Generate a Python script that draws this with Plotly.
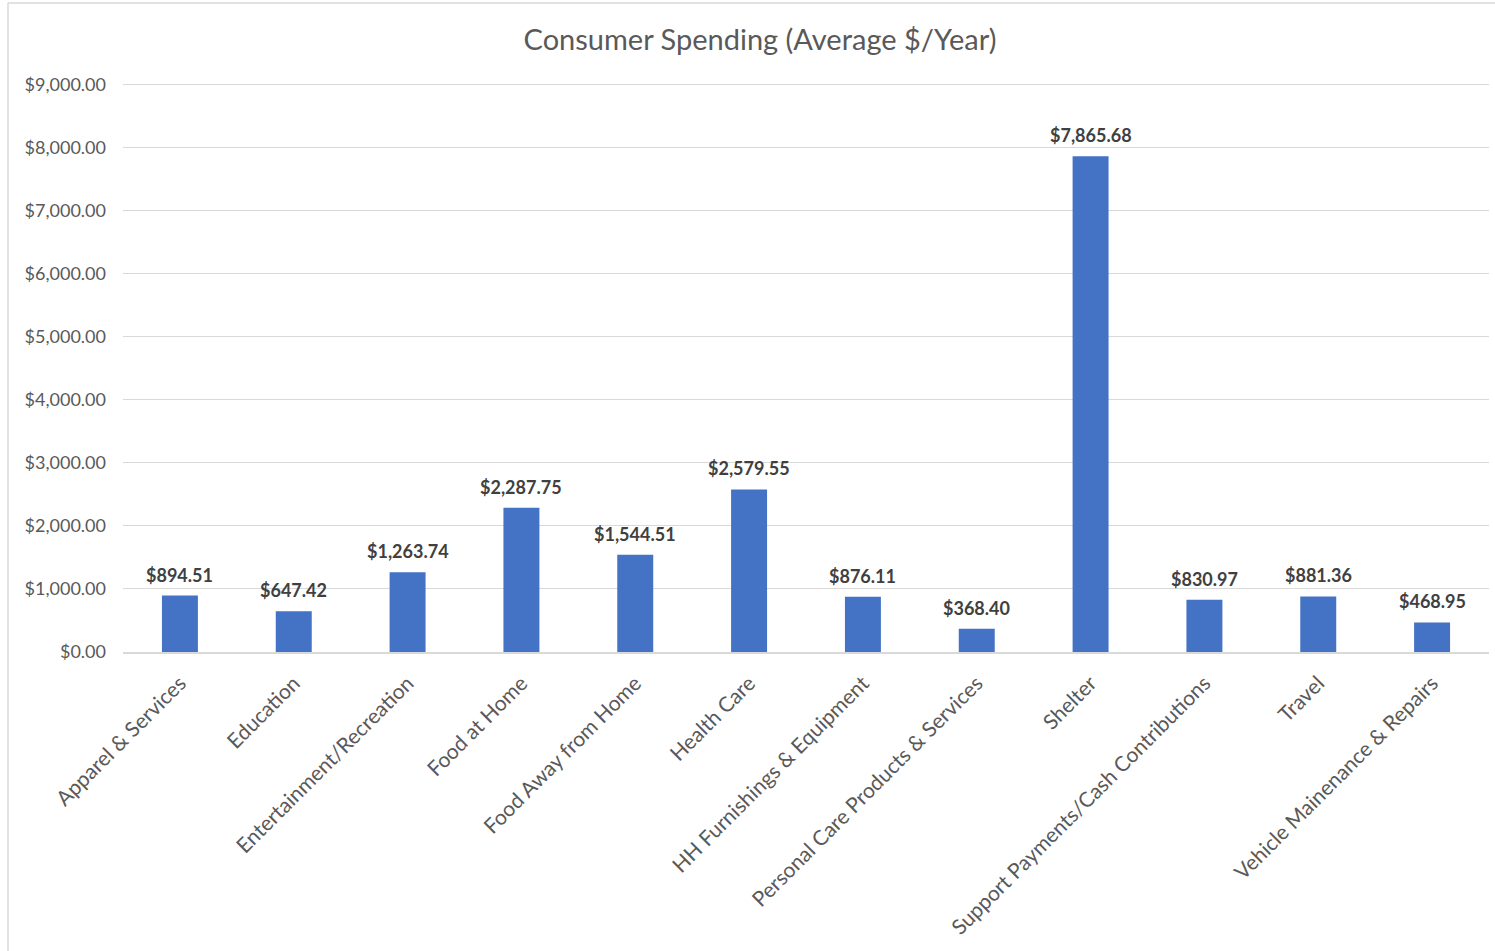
import plotly.graph_objects as go

# Average annual spending per category (US$)
categories = [
    "Apparel & Services",
    "Education",
    "Entertainment/Recreation",
    "Food at Home",
    "Food Away from Home",
    "Health Care",
    "HH Furnishings & Equipment",
    "Personal Care Products & Services",
    "Shelter",
    "Support Payments/Cash Contributions",
    "Travel",
    "Vehicle Mainenance & Repairs",
]
spending = [894.51, 647.42, 1263.74, 2287.75, 1544.51, 2579.55,
            876.11, 368.40, 7865.68, 830.97, 881.36, 468.95]

y_ticks = [0, 1000, 2000, 3000, 4000, 5000, 6000, 7000, 8000, 9000]
y_tick_labels = [f"${v:,.2f}" for v in y_ticks]
bar_labels = [f"${v:,.2f}" for v in spending]

FONT = "Lato, 'Open Sans', sans-serif"
W, H = 1495, 951
Y_MAX = 9060  # a little headroom so the $9,000 gridline is drawn
ML, MR, MB = 123, 6, 299
PX_PER_UNIT = 567 / 9000
MT = round(H - MB - Y_MAX * PX_PER_UNIT)
PW, PH = W - ML - MR, H - MT - MB


def px_x(px):
    return (px - ML) / PW


def px_y(py):
    return (H - MB - py) / PH


fig = go.Figure(
    go.Bar(
        x=categories,
        y=spending,
        marker=dict(color="#4472C4", line=dict(width=0)),
        cliponaxis=False,
        hoverinfo="x+y",
    )
)

# value labels above each bar
for cat, val, lab in zip(categories, spending, bar_labels):
    fig.add_annotation(
        x=cat, y=val, text=lab, showarrow=False,
        xanchor="center", yanchor="middle", yshift=21,
        font=dict(family=FONT, size=18, color="#404040", weight="bold"),
    )

fig.update_layout(
    width=W,
    height=H,
    margin=dict(l=ML, r=MR, t=MT, b=MB, autoexpand=False),
    paper_bgcolor="white",
    plot_bgcolor="white",
    bargap=0.684,
    showlegend=False,
    font=dict(family=FONT, color="#595959"),
    title=dict(
        text="Consumer Spending (Average $/Year)",
        font=dict(family=FONT, size=29, color="#595959"),
        xref="paper",
        x=px_x(760),
        xanchor="center",
        yref="container",
        y=1 - 40 / H,
        yanchor="middle",
    ),
    xaxis=dict(
        tickangle=-45,
        tickfont=dict(family=FONT, size=21, color="#595959"),
        showgrid=False,
        showline=True,
        linecolor="#D9D9D9",
        linewidth=1.5,
        ticks="",
        ticklabelstandoff=9,
    ),
    yaxis=dict(
        range=[0, Y_MAX],
        tickvals=y_ticks,
        ticktext=y_tick_labels,
        tickfont=dict(family=FONT, size=18, color="#595959"),
        showgrid=True,
        gridcolor="#D9D9D9",
        gridwidth=1.2,
        zeroline=False,
        showline=False,
        ticks="",
        ticklabelstandoff=16,
    ),
    shapes=[
        # chart frame (left and top edges)
        dict(type="line", xref="paper", yref="paper",
             x0=px_x(8), x1=px_x(8), y0=px_y(3), y1=px_y(H + 5),
             line=dict(color="#D9D9D9", width=1.5)),
        dict(type="line", xref="paper", yref="paper",
             x0=px_x(8), x1=px_x(W + 5), y0=px_y(3), y1=px_y(3),
             line=dict(color="#D9D9D9", width=1.5)),
    ],
)

fig.write_html("out.html")
